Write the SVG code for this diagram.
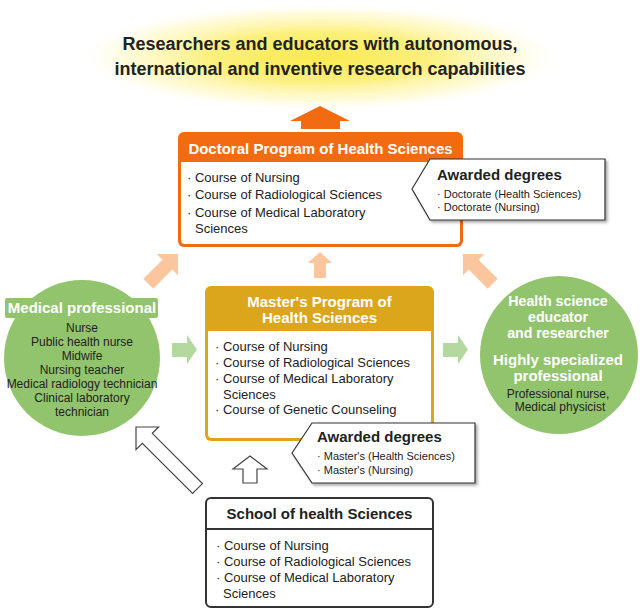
<svg xmlns="http://www.w3.org/2000/svg" width="640" height="610" viewBox="0 0 640 610">
<style>
text{font-family:"Liberation Sans",Arial,sans-serif;fill:#222}
.b{font-weight:bold}
.t15{font-size:15px;font-weight:bold}
.t14{font-size:14.2px;font-weight:bold}
.w{fill:#fff}
.c{text-anchor:middle}
.item{font-size:13px}
.small{font-size:11px}
.circ{font-size:12px}
.peach{fill:#fbc59d}
.green{fill:#b3d99f}
.outline{fill:#fff;stroke:#444;stroke-width:1.2}
.callout{fill:#fff;stroke:#333;stroke-width:1.2;filter:url(#sh)}
.gc{fill:#92c46d}
</style>
<defs>
<radialGradient id="glow" cx="0.5" cy="0.5" r="0.5">
<stop offset="0" stop-color="#fbe94e"/>
<stop offset="0.45" stop-color="#fcee6e" stop-opacity="0.9"/>
<stop offset="0.8" stop-color="#fff6b0" stop-opacity="0.45"/>
<stop offset="1" stop-color="#ffffff" stop-opacity="0"/>
</radialGradient>
<filter id="sh" x="-10%" y="-10%" width="130%" height="140%">
<feDropShadow dx="2" dy="2" stdDeviation="1.5" flood-color="#000" flood-opacity="0.35"/>
</filter>
</defs>

<g id="goal">
<ellipse cx="320" cy="57" rx="245" ry="55" fill="url(#glow)"/>
<text class="b c" x="320" y="50" font-size="18">Researchers and educators with autonomous,</text>
<text class="b c" x="320" y="75" font-size="18">international and inventive research capabilities</text>
</g>

<g id="connectors">
<path d="M320,106 L350,121 L340,121 L340,129 L301,129 L301,121 L290,121 Z" fill="#f26b10"/>
<path class="peach" d="M0,0 L15,15 L7,15 L7,42 L-7,42 L-7,15 L-15,15 Z" transform="translate(178,254) rotate(45)"/>
<path class="peach" d="M0,0 L15,15 L7,15 L7,42 L-7,42 L-7,15 L-15,15 Z" transform="translate(463,254) rotate(-45)"/>
<path class="peach" d="M320,252 L332,263 L326,263 L326,278 L314,278 L314,263 L308,263 Z"/>
<path class="green" d="M172,343 L187,343 L187,335 L197,349.5 L187,364 L187,357 L172,357 Z"/>
<path class="green" d="M443,343 L458,343 L458,335 L468,349.5 L458,364 L458,357 L443,357 Z"/>
<path class="outline" d="M0,0 L16,16 L7,16 L7,87 L-7,87 L-7,16 L-16,16 Z" transform="translate(136,427) rotate(-45)"/>
<path class="outline" d="M250,456 L267,469 L257,469 L257,483 L243,483 L243,469 L233,469 Z"/>
</g>

<g id="doctoral">
<rect x="178" y="132" width="285" height="115" rx="6" fill="#f26b10"/>
<path d="M181,162 H460 V240 Q460,244 456,244 H185 Q181,244 181,240 Z" fill="#fff"/>
<text class="t15 w c" x="320.5" y="154">Doctoral Program of Health Sciences</text>
<text class="item" x="187" y="182">· Course of Nursing</text>
<text class="item" x="187" y="199">· Course of Radiological Sciences</text>
<text class="item" x="187" y="217">· Course of Medical Laboratory</text>
<text class="item" x="195" y="233">Sciences</text>
</g>

<g id="doctoral-degrees">
<polygon class="callout" points="412,189 430,159 605,159 605,220 430,220"/>
<text class="t15" x="437" y="180">Awarded degrees</text>
<text class="small" x="437" y="198">· Doctorate (Health Sciences)</text>
<text class="small" x="437" y="211">· Doctorate (Nursing)</text>
</g>

<g id="masters">
<rect x="205" y="286" width="229" height="155" rx="6" fill="#dca61c"/>
<path d="M208,331 H431 V434 Q431,438 427,438 H212 Q208,438 208,434 Z" fill="#fff"/>
<text class="t15 w c" x="319.5" y="307">Master's Program of</text>
<text class="t15 w c" x="319.5" y="323">Health Sciences</text>
<text class="item" x="215" y="351">· Course of Nursing</text>
<text class="item" x="215" y="367">· Course of Radiological Sciences</text>
<text class="item" x="215" y="383">· Course of Medical Laboratory</text>
<text class="item" x="223" y="399">Sciences</text>
<text class="item" x="215" y="414">· Course of Genetic Counseling</text>
</g>

<g id="masters-degrees">
<polygon class="callout" points="292,453 312,423 475,423 475,483 312,483"/>
<text class="t15" x="317" y="442">Awarded degrees</text>
<text class="small" x="317" y="460">· Master's (Health Sciences)</text>
<text class="small" x="317" y="474">· Master's (Nursing)</text>
</g>

<g id="school">
<rect x="206" y="498" width="227" height="109" rx="5" fill="#fff" stroke="#333" stroke-width="2"/>
<line x1="206" y1="529" x2="433" y2="529" stroke="#333" stroke-width="2"/>
<text class="t15 c" x="319.5" y="519">School of health Sciences</text>
<text class="item" x="216" y="550">· Course of Nursing</text>
<text class="item" x="216" y="566">· Course of Radiological Sciences</text>
<text class="item" x="216" y="582">· Course of Medical Laboratory</text>
<text class="item" x="223" y="598">Sciences</text>
</g>

<g id="medical-professional">
<circle class="gc" cx="82" cy="358" r="78"/>
<rect x="5" y="298" width="153" height="20" rx="2" class="gc"/>
<text class="t15 w c" x="82" y="313">Medical professional</text>
<text class="circ c" x="82" y="332">Nurse</text>
<text class="circ c" x="82" y="346">Public health nurse</text>
<text class="circ c" x="82" y="360">Midwife</text>
<text class="circ c" x="82" y="374">Nursing teacher</text>
<text class="circ c" x="82" y="388">Medical radiology technician</text>
<text class="circ c" x="82" y="402">Clinical laboratory</text>
<text class="circ c" x="82" y="416">technician</text>
</g>

<g id="health-science-educator">
<circle class="gc" cx="559" cy="355" r="79"/>
<text class="t14 w c" x="558" y="306">Health science</text>
<text class="t14 w c" x="558" y="322">educator</text>
<text class="t14 w c" x="558" y="338">and researcher</text>
<text class="t15 w c" x="558" y="365">Highly specialized</text>
<text class="t15 w c" x="558" y="381">professional</text>
<text class="circ c" x="558" y="398">Professional nurse,</text>
<text class="circ c" x="560" y="411">Medical physicist</text>
</g>
</svg>
